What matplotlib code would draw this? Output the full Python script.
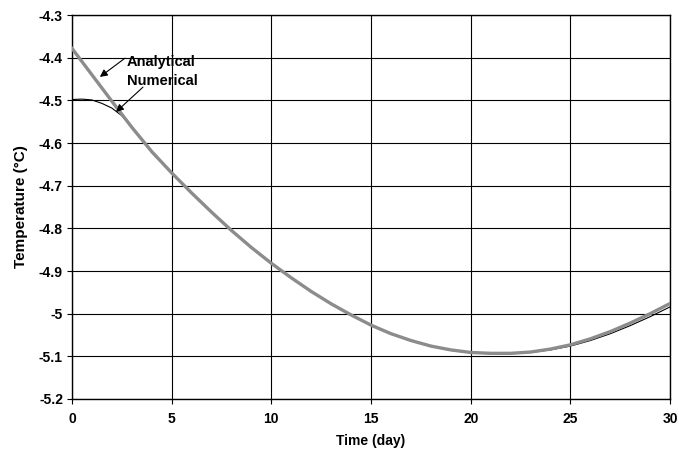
import numpy as np
import matplotlib.pyplot as plt

plt.rcParams['font.family'] = ['Liberation Sans Narrow', 'Liberation Sans', 'DejaVu Sans']
plt.rcParams['font.weight'] = 'bold'

# -------------------------------
# Data
# -------------------------------

t_analytical = [0, 1, 2, 3, 4, 5, 6, 7, 8, 9, 10, 11, 12, 13, 14, 15,
                16, 17, 18, 19, 20, 21, 22, 23, 24, 25, 26, 27, 28, 29, 30]
temp_analytical = [-4.378, -4.440, -4.502, -4.563, -4.620, -4.670, -4.717,
                   -4.762, -4.805, -4.845, -4.882, -4.916, -4.948, -4.977,
                   -5.003, -5.027, -5.047, -5.063, -5.076, -5.085, -5.091,
                   -5.093, -5.093, -5.090, -5.083, -5.073, -5.059, -5.042,
                   -5.022, -5.000, -4.976]

t_numerical = [0, 0.5, 1, 1.5, 2, 2.5, 3, 3.5, 4, 5, 6, 7, 8, 9, 10, 11,
               12, 13, 14, 15, 16, 17, 18, 19, 20, 21, 22, 23, 24, 25, 26,
               27, 28, 29, 30]
temp_numerical = [-4.498, -4.497, -4.499, -4.507, -4.518, -4.536, -4.562,
                  -4.593, -4.622, -4.671, -4.718, -4.763, -4.806, -4.846,
                  -4.883, -4.917, -4.949, -4.978, -5.004, -5.028, -5.048,
                  -5.064, -5.077, -5.086, -5.092, -5.094, -5.094, -5.091,
                  -5.085, -5.076, -5.063, -5.047, -5.028, -5.007, -4.984]

y_ticks = [-5.2, -5.1, -5.0, -4.9, -4.8, -4.7, -4.6, -4.5, -4.4, -4.3]
y_tick_labels = ["-5.2", "-5.1", "-5", "-4.9", "-4.8", "-4.7", "-4.6",
                 "-4.5", "-4.4", "-4.3"]
x_ticks = [0, 5, 10, 15, 20, 25, 30]

# -------------------------------
# Plot
# -------------------------------

fig = plt.figure(figsize=(6.79, 4.57), dpi=100)
ax = fig.add_axes([0.106, 0.127, 0.881, 0.840])

ax.plot(t_numerical, temp_numerical, color="black", linewidth=0.8, zorder=3)
ax.plot(t_analytical, temp_analytical, color="#8c8c8c", linewidth=2.4, zorder=4)

ax.set_xlim(0, 30)
ax.set_ylim(-5.2, -4.3)
ax.set_xticks(x_ticks)
ax.set_yticks(y_ticks)
ax.set_yticklabels(y_tick_labels)
ax.grid(True, color="black", linewidth=0.8)
ax.set_axisbelow(True)
for s in ax.spines.values():
    s.set_linewidth(1.0)

ax.tick_params(labelsize=10, length=3.5, width=0.8, direction="out", pad=3)
ax.tick_params(axis="x", pad=6)
ax.set_xlabel("Time (day)", fontsize=10, fontweight="bold", labelpad=6)
ax.set_ylabel("Temperature (°C)", fontsize=11, fontweight="bold", labelpad=8)

# labels with arrows
ax.text(2.76, -4.41, "Analytical", fontsize=10.5, fontweight="bold",
        va="center", ha="left", zorder=6)
ax.text(2.76, -4.455, "Numerical", fontsize=10.5, fontweight="bold",
        va="center", ha="left", zorder=6)
arrow = dict(arrowstyle="-|>", color="black", lw=0.8, mutation_scale=11,
             shrinkA=0, shrinkB=0)
ax.annotate("", xy=(1.40, -4.445), xytext=(2.66, -4.401), arrowprops=arrow,
            zorder=6)
ax.annotate("", xy=(2.21, -4.527), xytext=(3.56, -4.469), arrowprops=arrow,
            zorder=6)

plt.savefig("out.png", dpi=100)
